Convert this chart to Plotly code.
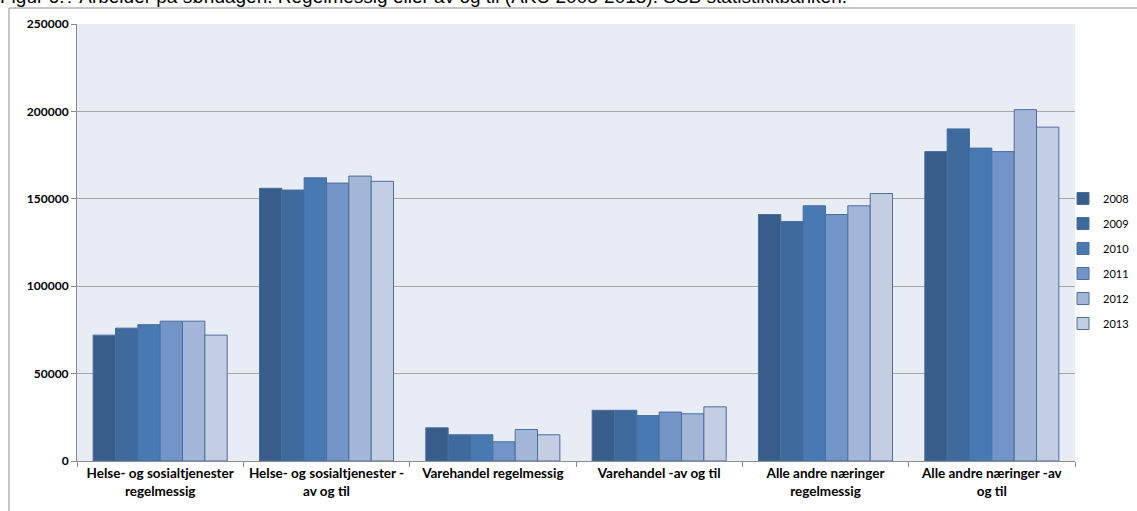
import plotly.graph_objects as go

categories = [
    "Helse- og sosialtjenester<br>regelmessig",
    "Helse- og sosialtjenester -<br>av og til",
    "Varehandel regelmessig",
    "Varehandel -av og til",
    "Alle andre næringer<br>regelmessig",
    "Alle andre næringer -av<br>og til",
]
years = ["2008", "2009", "2010", "2011", "2012", "2013"]
v2008 = [72000, 156000, 19000, 29000, 141000, 177000]
v2009 = [76000, 155000, 15000, 29000, 137000, 190000]
v2010 = [78000, 162000, 15000, 26000, 146000, 179000]
v2011 = [80000, 159000, 11000, 28000, 141000, 177000]
v2012 = [80000, 163000, 18000, 27000, 146000, 201000]
v2013 = [72000, 160000, 15000, 31000, 153000, 191000]
series = [v2008, v2009, v2010, v2011, v2012, v2013]
colors = ["#385D8A", "#3F6A9D", "#4979B3", "#7394C6", "#A3B6D7", "#C3CEE3"]
title_text = "Figur 6.? Arbeider på søndagen. Regelmessig eller av og til (AKU 2008-2013). SSB statistikkbanken."

fig = go.Figure()
for y, vals, c in zip(years, series, colors):
    fig.add_trace(go.Bar(
        x=categories, y=vals, name=y, legendgroup=y,
        marker=dict(color=c, line=dict(color="#4A6E9E", width=1)),
    ))

L, R, T, B = 77, 62, 24, 50
W, H = 1137, 511
pw, ph = W - L - R, H - T - B

def px(x):
    return (x - L) / pw

def py(y):
    return (H - B - y) / ph

fig.update_layout(
    width=W, height=H,
    margin=dict(l=L, r=R, t=T, b=B, pad=0, autoexpand=False),
    paper_bgcolor="white",
    plot_bgcolor="#E8ECF4",
    barmode="group", bargap=0.194, bargroupgap=0,
    font=dict(family="Lato, Liberation Sans, sans-serif", color="#000000"),
    showlegend=True,
    legend=dict(
        x=px(1063), y=py(261), xanchor="left", yanchor="middle",
        font=dict(size=11, family="Lato, sans-serif"),
        tracegroupgap=6, itemwidth=30, traceorder="grouped",
        bgcolor="rgba(0,0,0,0)",
    ),
    xaxis=dict(
        showgrid=False, showline=True, linecolor="#8C8C8C", linewidth=1,
        ticks="outside", tickson="boundaries", ticklen=5, tickcolor="#8C8C8C",
        tickfont=dict(size=13.5, family="Lato, sans-serif", weight="bold"),
        tickangle=0, fixedrange=True, automargin=False,
    ),
    yaxis=dict(
        range=[0, 250000], tickvals=[0, 50000, 100000, 150000, 200000, 250000],
        ticktext=["0", "50000", "100000", "150000", "200000", "250000"],
        showgrid=True, gridcolor="#A6A6A6", gridwidth=1,
        showline=True, linecolor="#8C8C8C", linewidth=1,
        ticks="outside", ticklen=5, tickcolor="#8C8C8C",
        tickfont=dict(size=12, family="Lato, sans-serif", weight="bold"),
        zeroline=False, automargin=False, fixedrange=True,
    ),
    annotations=[dict(
        text=title_text, xref="paper", yref="paper",
        x=px(-2), y=py(9), xanchor="left", yanchor="bottom",
        showarrow=False, font=dict(size=19, family="Liberation Sans, Arial, sans-serif", color="#000000"),
    )],
    shapes=[
        dict(type="line", xref="paper", yref="paper", x0=px(9), x1=px(W), y0=py(8), y1=py(8),
             line=dict(color="#8C8C8C", width=1)),
        dict(type="line", xref="paper", yref="paper", x0=px(9), x1=px(9), y0=py(8), y1=py(H),
             line=dict(color="#8C8C8C", width=1)),
    ],
)

fig.write_html(
    "out.html",
    config={"displayModeBar": False},
    post_script="document.body.style.margin='0';document.body.style.overflow='hidden';",
)
